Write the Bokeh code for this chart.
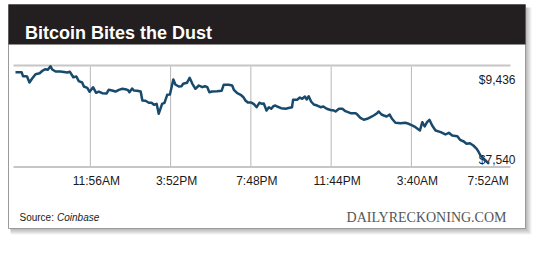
from bokeh.plotting import figure
from bokeh.models import Range1d
from bokeh.core.properties import value
from bokeh.embed import file_html
from bokeh.resources import INLINE

# ---------------- data ----------------
title_text = "Bitcoin Bites the Dust"
source_prefix = "Source: "
source_name = "Coinbase"
brand_text = "DAILYRECKONING.COM"

# minutes since midnight of day 1 (values past 1440 are the next morning)
minutes = [496, 514, 518, 525, 530, 537, 545, 555, 567, 576, 584, 591, 599, 604,
           614, 628, 648, 656, 666, 675, 682, 692, 697, 707, 714, 724, 733, 741,
           751, 764, 770, 780, 790, 800, 810, 819, 827, 831, 839, 844, 854, 864,
           869, 878, 888, 896, 903, 911, 917, 922, 927, 934, 942, 950, 960, 966,
           976, 984, 989, 1000, 1008, 1016, 1025, 1035, 1045, 1053, 1060, 1066,
           1074, 1089, 1102, 1108, 1123, 1133, 1138, 1148, 1158, 1166, 1172, 1179,
           1189, 1197, 1205, 1213, 1221, 1226, 1234, 1241, 1248, 1254, 1260, 1265,
           1277, 1290, 1302, 1309, 1312, 1324, 1332, 1339, 1347, 1352, 1358, 1365,
           1373, 1383, 1393, 1401, 1411, 1422, 1432, 1437, 1447, 1457, 1466, 1481,
           1496, 1501, 1510, 1520, 1530, 1540, 1549, 1559, 1564, 1572, 1579, 1587,
           1596, 1603, 1613, 1628, 1642, 1652, 1662, 1672, 1685, 1692, 1699, 1706,
           1713, 1721, 1731, 1746, 1760, 1770, 1780, 1795, 1803, 1814, 1822, 1832,
           1842, 1852, 1858, 1863, 1871, 1878, 1888]
prices = [9319, 9319, 9242, 9242, 9236, 9119, 9197, 9281, 9300, 9352, 9378, 9366,
          9436, 9372, 9333, 9333, 9314, 9327, 9222, 9236, 9145, 9119, 9042, 9016,
          8939, 9028, 8919, 8944, 8911, 8906, 8977, 8964, 8944, 8977, 8997, 8989,
          8970, 8931, 9003, 8964, 8958, 8944, 8770, 8764, 8725, 8725, 8686, 8705,
          8511, 8608, 8705, 8725, 8880, 8886, 9178, 9080, 9042, 9047, 9094, 9113,
          9211, 9094, 8997, 9061, 9028, 9047, 9028, 8931, 8944, 8950, 8958, 9075,
          9075, 9061, 8977, 8911, 8880, 8834, 8770, 8731, 8731, 8698, 8639, 8725,
          8705, 8711, 8575, 8639, 8608, 8659, 8672, 8653, 8620, 8608, 8628, 8639,
          8783, 8783, 8828, 8803, 8847, 8789, 8853, 8750, 8692, 8672, 8639, 8653,
          8608, 8585, 8575, 8556, 8608, 8608, 8562, 8523, 8523, 8497, 8433, 8395,
          8414, 8445, 8478, 8523, 8556, 8497, 8478, 8459, 8497, 8414, 8336, 8328,
          8336, 8317, 8284, 8251, 8187, 8348, 8264, 8348, 8395, 8284, 8187, 8154,
          8109, 8142, 8089, 8076, 8006, 7973, 7928, 7940, 7895, 7831, 7765, 7701,
          7648, 7604, 7540]

tick_minutes = [716, 952, 1188, 1424, 1660, 1912]
tick_labels = ["11:56AM", "3:52PM", "7:48PM", "11:44PM", "3:40AM", "7:52AM"]
high_price = max(prices)
low_price = min(prices)

# ---------------- layout ----------------
W, H = 540, 259
FIRST_X_PX = 15.0        # pixel of first sample
MIN_PER_PX = 2.94
HIGH_Y_PX = 65.7         # pixel row of the high price
PRICE_PER_PX = 19.43

x_start = minutes[0] - FIRST_X_PX * MIN_PER_PX
x_end = minutes[0] + (W - FIRST_X_PX) * MIN_PER_PX
y_end = high_price + HIGH_Y_PX * PRICE_PER_PX
y_start = high_price - (H - HIGH_Y_PX) * PRICE_PER_PX

p = figure(width=W, height=H, x_range=Range1d(x_start, x_end),
           y_range=Range1d(y_start, y_end), output_backend="svg",
           toolbar_location=None, min_border=0,
           x_axis_location=None, y_axis_location=None)
p.xgrid.visible = False
p.ygrid.visible = False
p.outline_line_color = None
p.background_fill_color = "white"
p.border_fill_color = "white"
p.extra_x_ranges = {"px": Range1d(0, W)}
p.extra_y_ranges = {"px": Range1d(H, 0)}
PX = dict(x_range_name="px", y_range_name="px")

# card shadow
for d in range(1, 7):
    p.quad(left=10, right=525 + d, top=7, bottom=228 + d, fill_color="#000000",
           fill_alpha=0.05, line_color=None, **PX)
# card
p.quad(left=8, right=525, top=4, bottom=228, fill_color="white",
       line_color="#9a9a9a", line_width=1, **PX)
# title bar
p.quad(left=8, right=525, top=4, bottom=44, fill_color="#231f20",
       line_color=None, **PX)
p.text(x=[24.5], y=[32.5], text=[title_text], text_color="white",
       text_font=value("Liberation Sans"), text_font_style="bold",
       text_font_size="18px", text_baseline="alphabetic", **PX)

# frame lines
p.segment(x0=[13, 13], x1=[510, 510], y0=[65, 166.5], y1=[65, 166.5],
          line_color="#c6c6c6", line_width=2.2, **PX)
# vertical grid lines
p.segment(x0=tick_minutes[:-1], x1=tick_minutes[:-1], y0=66, y1=165.5,
          line_color="#b8b8b8", line_width=1, y_range_name="px")

# tick labels
p.text(x=tick_minutes, y=[180.5] * len(tick_minutes), text=tick_labels,
       x_offset=[6, 6, 6, 6, 6, -9], text_align="center",
       text_baseline="alphabetic", text_font=value("Liberation Sans"),
       text_font_size="12px", text_color="#1a1a1a", y_range_name="px")

# high / low labels
p.text(x=[515, 515], y=[79, 159.3],
       text=[f"${high_price:,}", f"${low_price:,}"], text_align="right",
       text_baseline="alphabetic", text_font=value("Liberation Sans"),
       text_font_size="12px", text_color="#1a1a1a", **PX)

# price line
p.line(minutes, prices, line_color="#174a6c", line_width=2.5,
       line_join="round")

# footer
p.text(x=[19], y=[217.3], text=[source_prefix], text_font=value("Liberation Sans"),
       text_font_size="10px", text_color="#1a1a1a", text_baseline="alphabetic", **PX)
p.text(x=[56.5], y=[217.3], text=[source_name], text_font=value("Liberation Sans"),
       text_font_style="italic", text_font_size="10px", text_color="#1a1a1a",
       text_baseline="alphabetic", **PX)
p.text(x=[506], y=[217.3], text=[brand_text], text_font=value("Liberation Serif"),
       text_font_size="14px", text_color="#555555", text_align="right",
       text_baseline="alphabetic", **PX)

open("out.html", "w").write(file_html(p, INLINE))
